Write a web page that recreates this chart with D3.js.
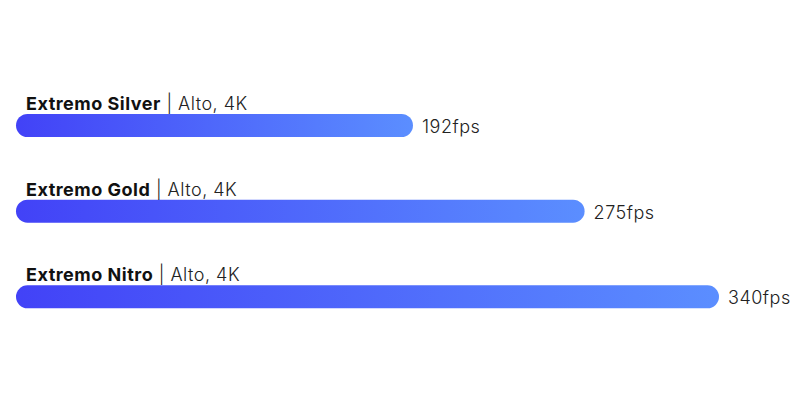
<!DOCTYPE html>
<html lang="es">
<head>
    <meta charset="UTF-8">
    <title>Extremo fps</title>
    <style>
        body {
            margin: 0;
            background: #fff;
            font-family: Inter, "Open Sans", sans-serif;
        }
        text { letter-spacing: 0.5px; }
        .name { font-weight: 700; }
        .detail { font-weight: 300; }
    </style>
</head>
<body>
<svg id="chart"></svg>

<script src="https://d3js.org/d3.v7.min.js"></script>
<script>
    // Data
    const products = ["Extremo Silver", "Extremo Gold", "Extremo Nitro"];
    const settings = ["Alto, 4K", "Alto, 4K", "Alto, 4K"];
    const fps = [192, 275, 340];

    const width = 800;
    const height = 400;
    const left = 16;
    const barH = 23;

    const svg = d3.select("#chart")
        .attr("width", width)
        .attr("height", height);

    // Gradient per bar, left to right
    const grad = svg.append("defs").append("linearGradient")
        .attr("id", "barGrad")
        .attr("x1", "0%").attr("x2", "100%")
        .attr("y1", "0%").attr("y2", "0%");
    grad.append("stop").attr("offset", "0%").attr("stop-color", "#4242f7");
    grad.append("stop").attr("offset", "100%").attr("stop-color", "#5b8eff");

    const x = d3.scaleLinear()
        .domain([0, 340])
        .range([0, 703]);

    const y = d3.scaleBand()
        .domain(products)
        .range([85, 342])
        .paddingInner(0);

    const rows = svg.selectAll("g.row")
        .data(products)
        .enter()
        .append("g")
        .attr("class", "row")
        .attr("transform", d => `translate(0, ${y(d)})`);

    // bar sits in the lower part of each band
    const barTop = 29;

    rows.append("rect")
        .attr("x", left)
        .attr("y", barTop)
        .attr("width", (d, i) => x(fps[i]))
        .attr("height", barH)
        .attr("rx", barH / 2)
        .attr("fill", "url(#barGrad)");

    const label = rows.append("text")
        .attr("x", 26)
        .attr("y", barTop - 4)
        .attr("font-size", 18)
        .attr("fill", "#111");
    label.append("tspan").attr("class", "name").text(d => d);
    label.append("tspan").attr("class", "detail").attr("fill", "#222")
        .text((d, i) => " | " + settings[i]);

    rows.append("text")
        .attr("x", (d, i) => left + x(fps[i]) + 9)
        .attr("y", barTop + 19)
        .attr("font-size", 18)
        .attr("font-weight", 300)
        .attr("fill", "#222")
        .text((d, i) => fps[i] + "fps");
</script>
</body>
</html>
